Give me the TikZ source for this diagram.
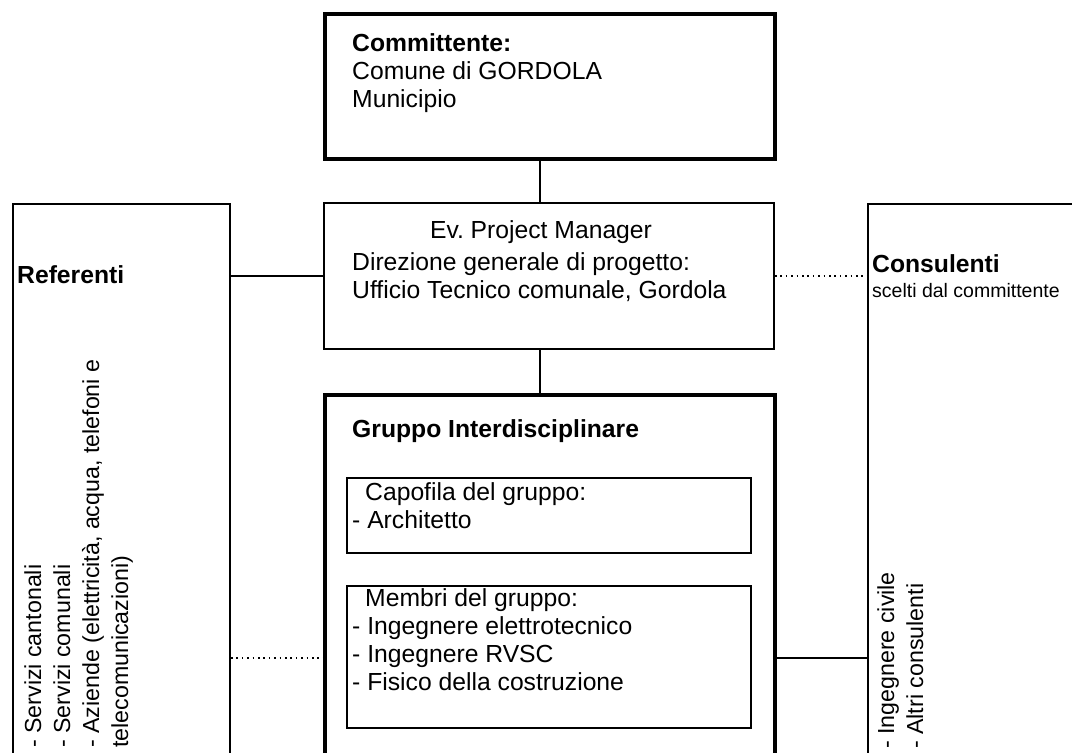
\documentclass[tikz,border=0pt]{standalone}
\usepackage{fontspec}
\setmainfont{Liberation Sans}
\usetikzlibrary{positioning}

\newcommand\bodyfont{\fontsize{24.7}{28}\selectfont}
\newcommand\sidefont{\fontsize{23.2}{29}\selectfont}
\newcommand\notefont{\fontsize{19.5}{23}\selectfont}

\tikzset{
    box/.style={draw, line width=2pt, inner sep=0pt, anchor=north west},
    thickbox/.style={box, line width=4pt},
    link/.style={line width=2.2pt},
    dots/.style={line width=1.6pt, dash pattern=on 1.6pt off 3.8pt},
    txt/.style={anchor=base west, inner sep=0pt, align=left, font=\bodyfont},
    sidetxt/.style={txt, rotate=90, font=\sidefont},
}

\begin{document}
\frenchspacing
\begin{tikzpicture}[x=1pt, y=-1pt]
    \clip (0,0) rectangle (1072,753);
    %boxes
    \node[thickbox, minimum width=450, minimum height=145] (comm) at (323,12) {};
    \node[box, minimum width=450, minimum height=146] (pm) at (323,202) {};
    \node[thickbox, minimum width=450, minimum height=526] (grp) at (323,393) {};
    \node[box, minimum width=404, minimum height=75] (capo) at (346,477) {};
    \node[box, minimum width=404, minimum height=142] (membri) at (346,585) {};
    \node[box, minimum width=217, minimum height=700] (ref) at (12,203) {};
    \node[box, minimum width=300, minimum height=700] (cons) at (867,203) {};

    %connections
    \coordinate (axis) at (540,0);
    \draw[link] (comm.south -| axis) -- (pm.north -| axis);
    \draw[link] (pm.south -| axis) -- (grp.north -| axis);
    \draw[link] (pm.west -| ref.east) -- (pm.west);
    \draw[dots] (pm.east) -- (pm.east -| cons.west);
    \draw[dots] (grp.west -| ref.east) -- (grp.west);
    \draw[link] (grp.east) -- (grp.east -| cons.west);

    %texts (anchored at the baseline of the last line)
    \node[txt] (commtxt) at (352,107) {\textbf{Committente:}\\Comune di GORDOLA\\Municipio};
    \node[txt, anchor=base] (pmhead) at (541,238) {Ev.\ Project Manager};
    \node[txt] (pmtxt) at (352,298) {Direzione generale di progetto:\\Ufficio Tecnico comunale, Gordola};
    \node[txt] (grptxt) at (352,437) {\textbf{Gruppo Interdisciplinare}};
    \node[txt] (capotxt) at (352,528) {\hspace*{13pt}Capofila del gruppo:\\- Architetto};
    \node[txt] (membritxt) at (352,690) {\hspace*{13pt}Membri del gruppo:\\- Ingegnere elettrotecnico\\- Ingegnere RVSC\\- Fisico della costruzione};
    \node[txt] (reftxt) at (17,283) {\textbf{Referenti}};
    \node[txt] (constxt) at (872,272) {\textbf{Consulenti}};
    \node[txt, font=\notefont] (consnote) at (872,297) {scelti dal committente};
    \node[sidetxt] (reflist) at (128,748) {- Servizi cantonali\\- Servizi comunali\\- Aziende (elettricità, acqua, telefoni e\\telecomunicazioni)};
    \node[sidetxt] (conslist) at (923,749) {- Ingegnere civile\\- Altri consulenti};
\end{tikzpicture}
\end{document}
